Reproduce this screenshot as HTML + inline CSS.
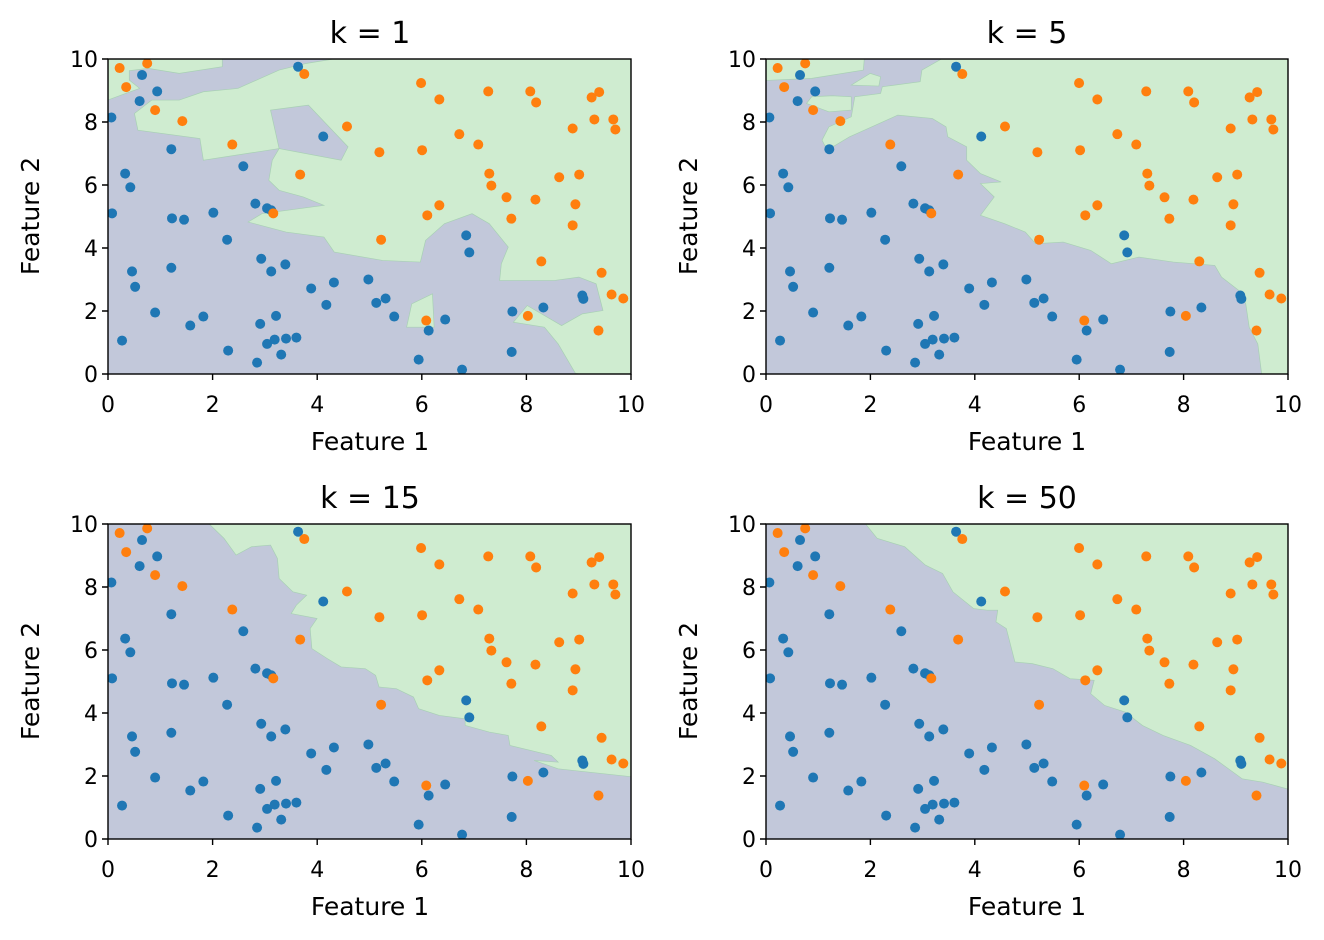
<!DOCTYPE html>
<html><head><meta charset="utf-8"><style>
html,body{margin:0;padding:0;background:#fff;}
svg{display:block;font-family:"DejaVu Sans","Liberation Sans",sans-serif;}
</style></head><body>
<svg width="1324" height="940" viewBox="0 0 1324 940" xmlns="http://www.w3.org/2000/svg">
<defs>
<clipPath id="c1" clipPathUnits="userSpaceOnUse"><rect x="108" y="59" width="523" height="315"/></clipPath>
<clipPath id="c2" clipPathUnits="userSpaceOnUse"><rect x="766" y="59" width="522" height="315"/></clipPath>
<clipPath id="c3" clipPathUnits="userSpaceOnUse"><rect x="108" y="524" width="523" height="315"/></clipPath>
<clipPath id="c4" clipPathUnits="userSpaceOnUse"><rect x="766" y="524" width="522" height="315"/></clipPath>
<g id="pts">
<g fill="#1f77b4">
<ellipse cx="575" cy="50" rx="14.5" ry="15"/><ellipse cx="122" cy="75" rx="14.5" ry="15"/><ellipse cx="166" cy="124" rx="14.5" ry="15"/><ellipse cx="115" cy="153" rx="14.5" ry="15"/><ellipse cx="33" cy="202" rx="14.5" ry="15"/><ellipse cx="207" cy="297" rx="14.5" ry="15"/><ellipse cx="416" cy="348" rx="14.5" ry="15"/><ellipse cx="648" cy="259" rx="14.5" ry="15"/><ellipse cx="73" cy="370" rx="14.5" ry="15"/><ellipse cx="88" cy="411" rx="14.5" ry="15"/><ellipse cx="35" cy="489" rx="14.5" ry="15"/><ellipse cx="209" cy="504" rx="14.5" ry="15"/><ellipse cx="244" cy="508" rx="14.5" ry="15"/><ellipse cx="329" cy="487" rx="14.5" ry="15"/><ellipse cx="451" cy="460" rx="14.5" ry="15"/><ellipse cx="485" cy="474" rx="14.5" ry="15"/><ellipse cx="497" cy="480" rx="14.5" ry="15"/><ellipse cx="369" cy="568" rx="14.5" ry="15"/><ellipse cx="468" cy="625" rx="14.5" ry="15"/><ellipse cx="497" cy="663" rx="14.5" ry="15"/><ellipse cx="538" cy="642" rx="14.5" ry="15"/><ellipse cx="93" cy="663" rx="14.5" ry="15"/><ellipse cx="102" cy="709" rx="14.5" ry="15"/><ellipse cx="207" cy="652" rx="14.5" ry="15"/><ellipse cx="160" cy="786" rx="14.5" ry="15"/><ellipse cx="262" cy="825" rx="14.5" ry="15"/><ellipse cx="300" cy="798" rx="14.5" ry="15"/><ellipse cx="64" cy="870" rx="14.5" ry="15"/><ellipse cx="372" cy="900" rx="14.5" ry="15"/><ellipse cx="465" cy="820" rx="14.5" ry="15"/><ellipse cx="511" cy="796" rx="14.5" ry="15"/><ellipse cx="485" cy="880" rx="14.5" ry="15"/><ellipse cx="507" cy="867" rx="14.5" ry="15"/><ellipse cx="540" cy="864" rx="14.5" ry="15"/><ellipse cx="570" cy="861" rx="14.5" ry="15"/><ellipse cx="526" cy="912" rx="14.5" ry="15"/><ellipse cx="456" cy="936" rx="14.5" ry="15"/><ellipse cx="613" cy="714" rx="14.5" ry="15"/><ellipse cx="657" cy="763" rx="14.5" ry="15"/><ellipse cx="679" cy="696" rx="14.5" ry="15"/><ellipse cx="779" cy="687" rx="14.5" ry="15"/><ellipse cx="802" cy="757" rx="14.5" ry="15"/><ellipse cx="829" cy="744" rx="14.5" ry="15"/><ellipse cx="854" cy="798" rx="14.5" ry="15"/><ellipse cx="954" cy="840" rx="14.5" ry="15"/><ellipse cx="1002" cy="807" rx="14.5" ry="15"/><ellipse cx="925" cy="927" rx="14.5" ry="15"/><ellipse cx="1051" cy="957" rx="14.5" ry="15"/><ellipse cx="1063" cy="555" rx="14.5" ry="15"/><ellipse cx="1072" cy="606" rx="14.5" ry="15"/><ellipse cx="1197" cy="783" rx="14.5" ry="15"/><ellipse cx="1195" cy="904" rx="14.5" ry="15"/><ellipse cx="1287" cy="771" rx="14.5" ry="15"/><ellipse cx="1400" cy="735" rx="14.5" ry="15"/><ellipse cx="1403" cy="745" rx="14.5" ry="15"/>
</g>
<g fill="#ff7f0e">
<ellipse cx="57" cy="54" rx="14.5" ry="15"/><ellipse cx="137" cy="40" rx="14.5" ry="15"/><ellipse cx="76" cy="111" rx="14.5" ry="15"/><ellipse cx="160" cy="180" rx="14.5" ry="15"/><ellipse cx="239" cy="213" rx="14.5" ry="15"/><ellipse cx="384" cy="283" rx="14.5" ry="15"/><ellipse cx="593" cy="72" rx="14.5" ry="15"/><ellipse cx="717" cy="229" rx="14.5" ry="15"/><ellipse cx="581" cy="373" rx="14.5" ry="15"/><ellipse cx="503" cy="489" rx="14.5" ry="15"/><ellipse cx="932" cy="99" rx="14.5" ry="15"/><ellipse cx="985" cy="148" rx="14.5" ry="15"/><ellipse cx="811" cy="306" rx="14.5" ry="15"/><ellipse cx="935" cy="300" rx="14.5" ry="15"/><ellipse cx="1043" cy="252" rx="14.5" ry="15"/><ellipse cx="1098" cy="283" rx="14.5" ry="15"/><ellipse cx="1127" cy="124" rx="14.5" ry="15"/><ellipse cx="1249" cy="124" rx="14.5" ry="15"/><ellipse cx="1266" cy="157" rx="14.5" ry="15"/><ellipse cx="1130" cy="370" rx="14.5" ry="15"/><ellipse cx="1136" cy="406" rx="14.5" ry="15"/><ellipse cx="1180" cy="441" rx="14.5" ry="15"/><ellipse cx="1264" cy="448" rx="14.5" ry="15"/><ellipse cx="1194" cy="505" rx="14.5" ry="15"/><ellipse cx="985" cy="465" rx="14.5" ry="15"/><ellipse cx="950" cy="495" rx="14.5" ry="15"/><ellipse cx="816" cy="568" rx="14.5" ry="15"/><ellipse cx="1372" cy="235" rx="14.5" ry="15"/><ellipse cx="1333" cy="381" rx="14.5" ry="15"/><ellipse cx="1391" cy="373" rx="14.5" ry="15"/><ellipse cx="1380" cy="462" rx="14.5" ry="15"/><ellipse cx="1372" cy="525" rx="14.5" ry="15"/><ellipse cx="1427" cy="142" rx="14.5" ry="15"/><ellipse cx="1449" cy="126" rx="14.5" ry="15"/><ellipse cx="1435" cy="208" rx="14.5" ry="15"/><ellipse cx="1490" cy="208" rx="14.5" ry="15"/><ellipse cx="1496" cy="238" rx="14.5" ry="15"/><ellipse cx="1281" cy="633" rx="14.5" ry="15"/><ellipse cx="1456" cy="667" rx="14.5" ry="15"/><ellipse cx="1485" cy="732" rx="14.5" ry="15"/><ellipse cx="1519" cy="744" rx="14.5" ry="15"/><ellipse cx="1242" cy="796" rx="14.5" ry="15"/><ellipse cx="947" cy="810" rx="14.5" ry="15"/><ellipse cx="1447" cy="840" rx="14.5" ry="15"/>
</g>
</g>
</defs>

<!-- Panel 1 -->
<g clip-path="url(#c1)">
<rect x="108" y="59" width="523" height="315" fill="#c2c8da"/>
<g transform="translate(100,50) scale(0.3445,0.334)" fill="#cfecd0" stroke="#a8d0b4" stroke-width="2">
<polygon points="1600,0 1600,1000 1380,968 1330,880 1290,830 1200,815 1240,765 1340,825 1400,790 1460,780 1440,700 1390,680 1320,690 1160,690 1165,640 1185,590 1130,520 1080,490 1000,520 945,570 930,635 820,630 680,605 650,560 540,545 430,515 470,490 650,465 590,440 520,420 490,390 500,330 520,295 300,330 290,265 110,240 100,190 150,150 230,150 300,125 400,115 520,60 600,40 690,25 700,0"/>
<polygon points="0,0 355,0 355,50 230,70 140,55 85,62 85,90 115,115 22,150 0,150" />
<polygon points="890,830 905,760 965,730 970,830" />
</g>
<g transform="translate(100,50) scale(0.3445,0.334)" fill="#c2c8da" stroke="#a8d0b4" stroke-width="2">
<polygon points="495,180 605,165 720,290 700,330 520,295"/>
</g>
<use href="#pts" transform="translate(100,50) scale(0.3445,0.334)"/>
</g>

<!-- Panel 2 -->
<g clip-path="url(#c2)">
<rect x="766" y="59" width="522" height="315" fill="#cfecd0"/>
<g transform="translate(760,50) scale(0.3445,0.334)" fill="#c2c8da" stroke="#a8d0b4" stroke-width="2">
<polygon points="0,92 150,85 300,60 305,0 530,0 530,25 470,60 465,95 355,110 350,130 275,140 265,200 200,230 180,270 195,300 260,260 400,195 500,205 540,230 545,260 600,290 600,330 640,370 700,395 640,400 680,440 640,495 710,520 770,545 800,580 880,575 960,600 1020,640 1100,620 1200,635 1320,645 1340,680 1390,720 1410,760 1420,830 1445,880 1460,1000 0,1000"/>
</g>
<g transform="translate(760,50) scale(0.3445,0.334)" fill="#cfecd0" stroke="#a8d0b4" stroke-width="2">
<polygon points="135,160 150,140 210,137 265,140 265,180 200,185"/>
<polygon points="265,105 320,70 350,80 345,108"/>
</g>
<use href="#pts" transform="translate(758,50) scale(0.3445,0.334)"/>
</g>

<!-- Panel 3 -->
<g clip-path="url(#c3)">
<rect x="108" y="524" width="523" height="315" fill="#cfecd0"/>
<g transform="translate(100,515) scale(0.3445,0.334)" fill="#c2c8da" stroke="#a8d0b4" stroke-width="2">
<polygon points="0,0 315,0 315,25 360,70 395,120 440,95 495,90 515,130 520,190 560,230 600,240 570,270 555,295 630,310 610,340 615,400 660,430 700,455 770,460 800,480 810,515 860,520 910,545 925,580 985,600 1060,610 1060,630 1130,650 1185,660 1190,690 1310,720 1330,740 1260,735 1330,760 1420,770 1600,790 1600,1000 0,1000"/>
</g>
<use href="#pts" transform="translate(100,515) scale(0.3445,0.334)"/>
</g>

<!-- Panel 4 -->
<g clip-path="url(#c4)">
<rect x="766" y="524" width="522" height="315" fill="#cfecd0"/>
<g transform="translate(760,515) scale(0.3445,0.334)" fill="#c2c8da" stroke="#a8d0b4" stroke-width="2">
<polygon points="0,0 305,0 305,25 340,70 420,95 480,150 530,175 560,230 620,280 660,285 690,285 685,320 715,340 740,440 790,445 850,460 900,490 970,495 960,535 1000,570 1060,590 1110,630 1170,660 1250,690 1320,730 1400,790 1460,800 1600,840 1600,1000 0,1000"/>
</g>
<use href="#pts" transform="translate(758,515) scale(0.3445,0.334)"/>
</g>

<!-- Frames and ticks -->
<g fill="none" stroke="#000" stroke-width="1.4">
<rect x="108" y="59" width="523" height="315"/>
<rect x="766" y="59" width="522" height="315"/>
<rect x="108" y="524" width="523" height="315"/>
<rect x="766" y="524" width="522" height="315"/>
<path d="M108,374v6M212.6,374v6M317.2,374v6M421.8,374v6M526.4,374v6M631,374v6
M766,374v6M870.4,374v6M974.8,374v6M1079.2,374v6M1183.6,374v6M1288,374v6
M108,839v6M212.6,839v6M317.2,839v6M421.8,839v6M526.4,839v6M631,839v6
M766,839v6M870.4,839v6M974.8,839v6M1079.2,839v6M1183.6,839v6M1288,839v6
M108,374h-6M108,311h-6M108,248h-6M108,185h-6M108,122h-6M108,59h-6
M766,374h-6M766,311h-6M766,248h-6M766,185h-6M766,122h-6M766,59h-6
M108,839h-6M108,776h-6M108,713h-6M108,650h-6M108,587h-6M108,524h-6
M766,839h-6M766,776h-6M766,713h-6M766,650h-6M766,587h-6M766,524h-6"/>
</g>

<g font-size="22" fill="#000" text-anchor="middle">
<text x="108" y="412">0</text><text x="212.6" y="412">2</text><text x="317.2" y="412">4</text><text x="421.8" y="412">6</text><text x="526.4" y="412">8</text><text x="631" y="412">10</text>
<text x="766" y="412">0</text><text x="870.4" y="412">2</text><text x="974.8" y="412">4</text><text x="1079.2" y="412">6</text><text x="1183.6" y="412">8</text><text x="1288" y="412">10</text>
<text x="108" y="877">0</text><text x="212.6" y="877">2</text><text x="317.2" y="877">4</text><text x="421.8" y="877">6</text><text x="526.4" y="877">8</text><text x="631" y="877">10</text>
<text x="766" y="877">0</text><text x="870.4" y="877">2</text><text x="974.8" y="877">4</text><text x="1079.2" y="877">6</text><text x="1183.6" y="877">8</text><text x="1288" y="877">10</text>
</g>
<g font-size="22" fill="#000" text-anchor="end">
<text x="98" y="382">0</text><text x="98" y="319">2</text><text x="98" y="256">4</text><text x="98" y="193">6</text><text x="98" y="130">8</text><text x="98" y="67">10</text>
<text x="756" y="382">0</text><text x="756" y="319">2</text><text x="756" y="256">4</text><text x="756" y="193">6</text><text x="756" y="130">8</text><text x="756" y="67">10</text>
<text x="98" y="847">0</text><text x="98" y="784">2</text><text x="98" y="721">4</text><text x="98" y="658">6</text><text x="98" y="595">8</text><text x="98" y="532">10</text>
<text x="756" y="847">0</text><text x="756" y="784">2</text><text x="756" y="721">4</text><text x="756" y="658">6</text><text x="756" y="595">8</text><text x="756" y="532">10</text>
</g>
<g font-size="25" fill="#000" text-anchor="middle">
<text x="370" y="450">Feature 1</text><text x="1027" y="450">Feature 1</text>
<text x="370" y="915">Feature 1</text><text x="1027" y="915">Feature 1</text>
<text transform="translate(39,216) rotate(-90)">Feature 2</text>
<text transform="translate(697,216) rotate(-90)">Feature 2</text>
<text transform="translate(39,681) rotate(-90)">Feature 2</text>
<text transform="translate(697,681) rotate(-90)">Feature 2</text>
</g>
<g font-size="30" fill="#000" text-anchor="middle">
<text x="370" y="43">k = 1</text><text x="1027" y="43">k = 5</text>
<text x="370" y="508">k = 15</text><text x="1027" y="508">k = 50</text>
</g>
</svg>
</body></html>
